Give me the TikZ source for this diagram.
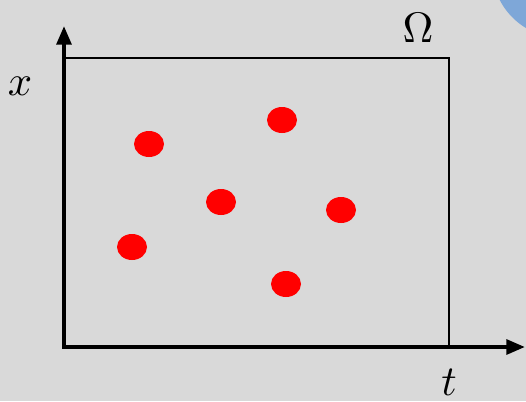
\documentclass[tikz,border=0pt]{standalone}
\usetikzlibrary{arrows.meta,shapes.geometric}
\begin{document}
\begin{tikzpicture}[x=0.75pt,y=-0.75pt,
  axis/.style={line width=3pt,-{Triangle[length=14pt,width=11pt]}},
  dot/.style={ellipse,fill=red,minimum width=22.5pt,minimum height=19.5pt,inner sep=0pt},
  lbl/.style={inner sep=0pt,scale=3.2}]
\useasboundingbox (0,0) rectangle (526,401);
\fill[fill={rgb,255:red,217;green,217;blue,217}] (0,0) rectangle (526,401);
\fill[fill={rgb,255:red,126;green,167;blue,216}] (562,-32) circle (70);
\coordinate (o) at (64,347);
\coordinate (ytip) at (64,26);
\coordinate (xtip) at (525,347);
\draw[line width=1.6pt] (65,58) rectangle (449,347);
\draw[axis] (o) -- (ytip);
\draw[axis] (62,347) -- (xtip);
\node[lbl] (om) at (418,28) {$\Omega$};
\node[lbl] (xl) at (20,86) {$x$};
\node[lbl] (tl) at (449,382) {$t$};
\node[dot] (d1) at (149,144) {};
\node[dot] (d2) at (282,120) {};
\node[dot] (d3) at (221,202) {};
\node[dot] (d4) at (341,210) {};
\node[dot] (d5) at (132,247) {};
\node[dot] (d6) at (286,284) {};
\end{tikzpicture}
\end{document}
